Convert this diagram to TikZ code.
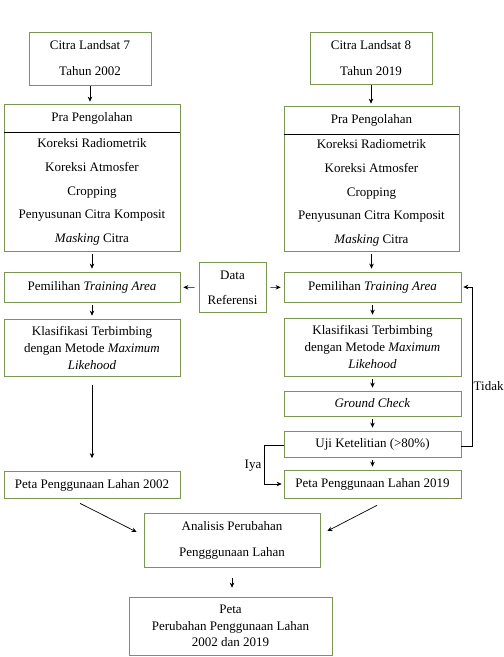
\documentclass[tikz,border=0pt]{standalone}
\usepackage{fontspec}
\setmainfont{Liberation Serif}
\usetikzlibrary{arrows.meta}
\definecolor{boxgreen}{RGB}{122,150,82}
\begin{document}
\begin{tikzpicture}[x=1pt, y=-1pt, >={Stealth[length=5pt,width=4.5pt]},
    every node/.style={font=\fontsize{13}{26}\selectfont, inner sep=0pt},
    box/.style={draw=boxgreen, line width=0.7pt, align=center},
    flow/.style={->, line width=0.7pt, shorten <=3pt, shorten >=3pt}]
    \useasboundingbox (0,0) rectangle (504,657);
    % citra
    \node[box, minimum width=122pt, minimum height=53pt] (citraL) at (90,58.5) {Citra Landsat 7\\Tahun 2002};
    \node[box, minimum width=122pt, minimum height=52pt] (citraR) at (371,58) {Citra Landsat 8\\Tahun 2019};
    % pra pengolahan
    \node[box, minimum width=176pt, minimum height=147pt] (praL) at (92,177.5) {};
    \node[box, minimum width=175pt, minimum height=145pt] (praR) at (371.5,178.5) {};
    \draw[line width=0.7pt] ([yshift=-29pt]praL.north west) -- ([yshift=-29pt]praL.north east);
    \draw[line width=0.7pt] ([yshift=-29pt]praR.north west) -- ([yshift=-29pt]praR.north east);
    \node (praLhead) at (92,118) {Pra Pengolahan};
    \node (praRhead) at (371.5,120) {Pra Pengolahan};
    \node[align=center, font=\fontsize{13}{23.75}\selectfont] (praLsteps) at (92,192)
      {Koreksi Radiometrik\\Koreksi Atmosfer\\Cropping\\Penyusunan Citra Komposit\\\textit{Masking} Citra};
    \node[align=center, font=\fontsize{13}{23.75}\selectfont] (praRsteps) at (371.5,193)
      {Koreksi Radiometrik\\Koreksi Atmosfer\\Cropping\\Penyusunan Citra Komposit\\\textit{Masking} Citra};
    % training area
    \node[box, minimum width=176pt, minimum height=30pt] (pemL) at (92,287) {Pemilihan \textit{Training Area}};
    \node[box, minimum width=177pt, minimum height=30pt] (pemR) at (372.5,287) {Pemilihan \textit{Training Area}};
    \node[box, minimum width=67pt, minimum height=50pt, font=\fontsize{13}{25}\selectfont] (data) at (232.5,287.5) {Data\\Referensi};
    % klasifikasi
    \node[box, minimum width=176pt, minimum height=57pt, font=\fontsize{13}{17}\selectfont] (klasL) at (92,347.5)
      {Klasifikasi Terbimbing\\dengan Metode \textit{Maximum}\\\textit{Likehood}};
    \node[box, minimum width=177pt, minimum height=58pt, font=\fontsize{13}{17}\selectfont] (klasR) at (372.5,347)
      {Klasifikasi Terbimbing\\dengan Metode \textit{Maximum}\\\textit{Likehood}};
    \node[box, minimum width=177pt, minimum height=25pt] (ground) at (372.5,403.5) {\textit{Ground Check}};
    \node[box, minimum width=177pt, minimum height=26pt] (uji) at (372.5,444) {Uji Ketelitian (>80\%)};
    % peta
    \node[box, minimum width=176pt, minimum height=27pt] (petaL) at (92,485) {Peta Penggunaan Lahan 2002};
    \node[box, minimum width=177pt, minimum height=28pt] (petaR) at (372.5,484) {Peta Penggunaan Lahan 2019};
    \node[box, minimum width=176pt, minimum height=54pt] (analisis) at (232,540) {Analisis Perubahan\\Pengggunaan Lahan};
    \node[box, minimum width=203pt, minimum height=58pt, font=\fontsize{13}{16.5}\selectfont] (petaAkhir) at (230.5,626)
      {Peta\\Perubahan Penggunaan Lahan\\2002 dan 2019};
    % arrows
    \draw[flow, shorten <=1pt, shorten >=2pt] (citraL.south) -- (citraL.south |- praL.north);
    \draw[flow, shorten <=1pt, shorten >=2pt] (citraR.south) -- (citraR.south |- praR.north);
    \draw[flow] (praL) -- (pemL);
    \draw[flow] (praR) -- (praR.south |- pemR.north);
    \draw[flow] (pemL) -- (klasL);
    \draw[flow] (pemR) -- (klasR);
    \draw[flow, shorten <=9pt, shorten >=13pt] (klasL) -- (petaL);
    \draw[flow] (klasR) -- (ground);
    \draw[flow] (ground) -- (uji);
    \draw[flow] (uji) -- (petaR);
    \draw[flow, shorten <=4pt] (data) -- (pemL);
    \draw[flow, shorten <=4pt] (data) -- (pemR);
    \draw[->, line width=0.7pt, shorten >=2pt] ([yshift=-2pt]uji.east) -- ++(11,0) |- (pemR.east)
      node[pos=0.19, right=1pt] (tidak) {Tidak};
    \draw[->, line width=0.7pt, shorten >=2pt] ([yshift=-1pt]uji.west) -- ++(-19,0) |- (petaR.west)
      node[pos=0.27, left=3pt] (iya) {Iya};
    \draw[->, line width=0.7pt] ([shift={(-12,4.5)}]petaL.south) -- ([shift={(-7,-8)}]analisis.west);
    \draw[->, line width=0.7pt] ([shift={(4.5,7)}]petaR.south) -- ([shift={(7,-9)}]analisis.east);
    \draw[flow, shorten <=11pt, shorten >=9pt] (analisis) -- (analisis.south |- petaAkhir.north);
\end{tikzpicture}
\end{document}
